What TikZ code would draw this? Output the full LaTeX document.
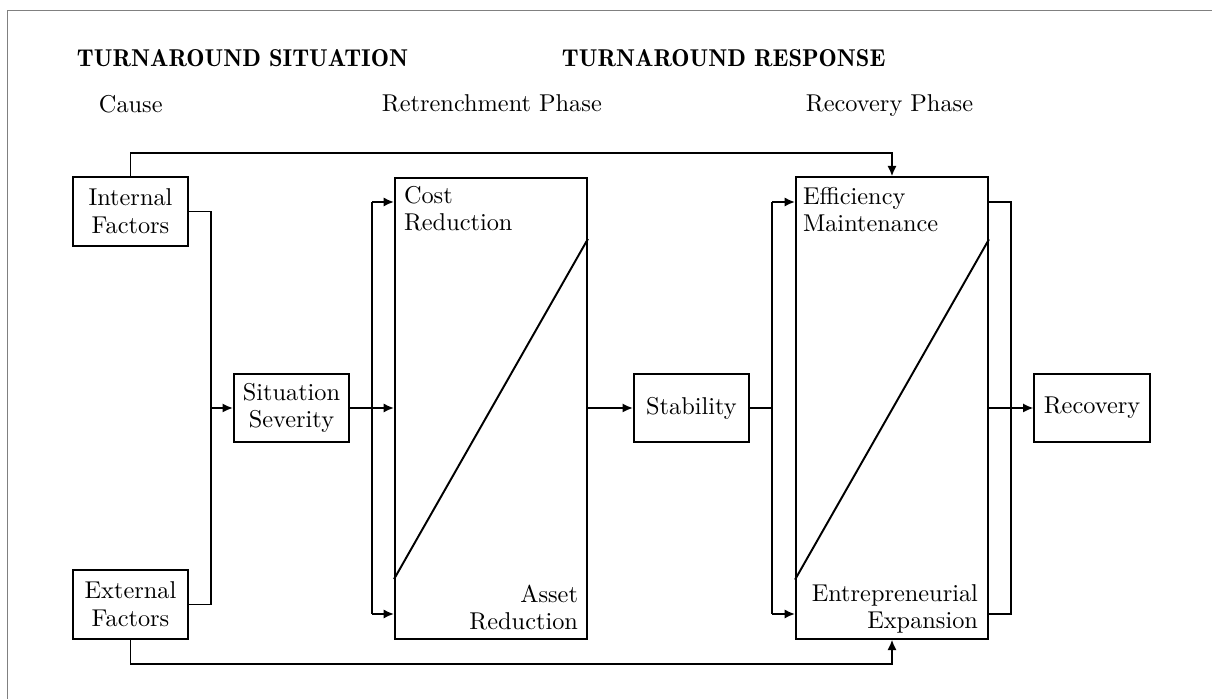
\documentclass[tikz,border=0pt]{standalone}
\usetikzlibrary{arrows.meta,calc}
\begin{document}
\begin{tikzpicture}[x=0.411pt,y=-0.411pt,
  line width=0.8pt,
  box/.style={draw,minimum width=47.3pt,minimum height=28.2pt,inner sep=0pt,
    align=center,font=\fontsize{10pt}{11.4pt}\selectfont},
  phasebox/.style={draw,minimum width=78.9pt,minimum height=189.6pt,inner sep=0pt},
  arr/.style={-{Latex[length=4.3pt,width=3.8pt]}},
  boxtext/.style={inner sep=0pt,font=\fontsize{10pt}{11pt}\selectfont},
  head/.style={inner sep=0pt,anchor=base west,font=\fontseries{b}\selectfont},
  sub/.style={inner sep=0pt,anchor=base west}
]
\useasboundingbox (0,0) rectangle (1212,699);
% page frame
\draw[gray,line width=0.4pt] (1212,10) -- (7,10) -- (7,699);

% headings
\node[head] (hsit) at (76,67) {TURNAROUND SITUATION};
\node[head] (hresp) at (561,67) {TURNAROUND RESPONSE};
\node[sub] (cause) at (98,112.5) {Cause};
\node[sub] (retr) at (381,112) {Retrenchment Phase};
\node[sub] (recp) at (805,112) {Recovery Phase};

% boxes
\node[box] (int) at (130.5,211.5) {Internal\\Factors};
\node[box] (ext) at (130.5,604.5) {External\\Factors};
\node[box] (sev) at (291.5,408) {Situation\\Severity};
\node[phasebox] (cost) at (491,408.5) {};
\node[box] (stab) at (691.5,408) {Stability};
\node[phasebox] (eff) at (892,408) {};
\node[box] (rec) at (1092,408) {Recovery};

% texts inside the phase boxes
\node[boxtext,anchor=north west,align=left] (costt) at ($(cost.north west)+(9,9)$) {Cost\\Reduction};
\node[boxtext,anchor=north east,align=right] (assett) at ($(cost.south east)+(-9,-56)$) {Asset\\Reduction};
\node[boxtext,anchor=north west,align=left] (efft) at ($(eff.north west)+(7,10)$) {Efficiency\\Maintenance};
\node[boxtext,anchor=north east,align=right] (entt) at ($(eff.south east)+(-10,-56)$) {Entrepreneurial\\Expansion};

% diagonals
\draw ($(cost.north east)+(0,62)$) -- ($(cost.south west)+(0,-61)$);
\draw ($(eff.north east)+(0,63)$) -- ($(eff.south west)+(0,-60)$);

% causes to severity
\coordinate (busA) at (211,408);
\draw (int.east) -| (busA) |- (ext.east);
\draw[arr] (busA) -- (sev.west);

% severity to retrenchment
\coordinate (busBt) at (372,202);
\coordinate (busBb) at (372,614);
\draw[arr] (sev.east) -- (sev.east -| cost.west);
\draw (busBt) -- (busBb);
\draw[arr] (busBt) -- (busBt -| cost.west);
\draw[arr] (busBb) -- (busBb -| cost.west);

% retrenchment to stability to recovery phase
\draw[arr] (cost.east |- stab.west) -- (stab.west);
\coordinate (busCt) at (772,202);
\coordinate (busCb) at (772,614);
\draw (stab.east) -- (stab.east -| busCt);
\draw (busCt) -- (busCb);
\draw[arr] (busCt) -- (busCt -| eff.west);
\draw[arr] (busCb) -- (busCb -| eff.west);

% recovery phase outputs
\coordinate (busDt) at (1011,202);
\coordinate (busDb) at (1011,614);
\draw (busDt -| eff.east) -- (busDt) -- (busDb) -- (busDb -| eff.east);
\draw[arr] (eff.east |- rec.west) -- (rec.west);

% feedback paths from the causes
\coordinate (topY) at (0,153);
\coordinate (botY) at (0,664);
\draw[arr] (int.north) |- (topY -| eff.north) -- (eff.north);
\draw[arr] (ext.south) |- (botY -| eff.south) -- (eff.south);
\end{tikzpicture}
\end{document}
